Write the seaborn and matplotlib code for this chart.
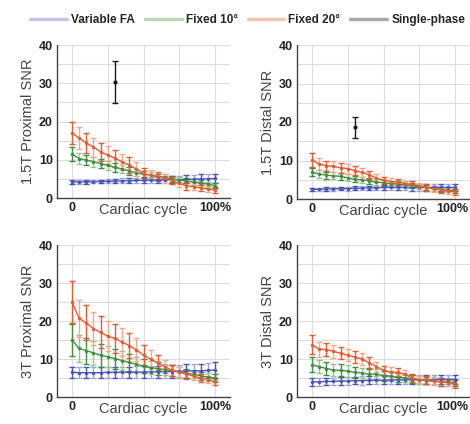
import numpy as np
import pandas as pd
import seaborn as sns
import matplotlib
matplotlib.use("Agg")
import matplotlib.pyplot as plt
from matplotlib.lines import Line2D
import matplotlib.transforms as mtransforms

# ---------------- data ----------------
phase = [0, 5, 10, 15, 20, 25, 30, 35, 40, 45, 50, 55, 60, 65, 70, 75, 80, 85, 90, 95, 100]
series_names = ["Variable FA", "Fixed 10°", "Fixed 20°", "Single-phase"]
panel_titles = ["1.5T Proximal SNR", "1.5T Distal SNR", "3T Proximal SNR", "3T Distal SNR"]

# 1.5T Proximal
p15_var = [4.2, 4.2, 4.2, 4.3, 4.3, 4.4, 4.4, 4.5, 4.5, 4.6, 4.6, 4.7, 4.7, 4.8, 4.8, 4.8, 4.9, 4.9, 5.0, 5.0, 5.1]
p15_var_err = [0.5, 0.5, 0.5, 0.5, 0.5, 0.6, 0.6, 0.6, 0.7, 0.7, 0.8, 0.8, 0.9, 0.9, 1.0, 1.0, 1.1, 1.1, 1.2, 1.2, 1.3]
p15_f10 = [11.5, 10.3, 9.9, 9.5, 9.0, 8.5, 8.0, 7.6, 7.1, 6.6, 6.2, 6.0, 5.6, 5.4, 5.0, 4.7, 4.5, 4.2, 4.0, 3.6, 3.2]
p15_f10_err = [1.8, 1.5, 1.4, 1.3, 1.2, 1.2, 1.1, 1.0, 1.0, 0.9, 0.9, 0.8, 0.8, 0.8, 0.8, 0.7, 0.7, 0.7, 0.7, 0.7, 0.7]
p15_f20 = [17.0, 15.7, 14.4, 13.3, 12.1, 11.2, 10.4, 9.5, 8.6, 7.6, 6.3, 6.0, 5.6, 5.1, 4.6, 3.8, 3.2, 3.0, 2.6, 2.4, 2.0]
p15_f20_err = [3.0, 2.9, 2.7, 2.5, 2.4, 2.3, 2.2, 2.1, 2.0, 1.8, 1.6, 1.4, 1.2, 1.1, 1.0, 1.0, 1.0, 0.9, 0.9, 0.8, 0.8]
p15_single = [30.4]
p15_single_err = [5.5]

# 1.5T Distal
d15_var = [2.5, 2.5, 2.6, 2.6, 2.7, 2.7, 2.8, 2.8, 2.9, 2.9, 3.0, 3.0, 3.0, 3.0, 3.0, 3.0, 3.0, 3.0, 3.0, 3.0, 3.0]
d15_var_err = [0.4, 0.4, 0.4, 0.4, 0.4, 0.5, 0.5, 0.5, 0.6, 0.6, 0.6, 0.7, 0.7, 0.7, 0.8, 0.8, 0.8, 0.9, 0.9, 1.0, 1.0]
d15_f10 = [7.0, 6.5, 6.2, 6.0, 5.9, 5.5, 5.1, 5.0, 4.7, 4.4, 4.2, 4.0, 3.9, 3.7, 3.5, 3.2, 3.0, 2.8, 2.5, 2.3, 2.1]
d15_f10_err = [1.1, 1.0, 0.9, 0.9, 0.9, 0.9, 0.8, 0.8, 0.8, 0.7, 0.7, 0.7, 0.7, 0.6, 0.6, 0.6, 0.6, 0.6, 0.6, 0.6, 0.6]
d15_f20 = [10.1, 9.1, 8.6, 8.5, 8.1, 7.9, 7.4, 6.9, 6.3, 5.4, 4.9, 4.5, 4.4, 4.0, 3.8, 3.4, 3.0, 2.6, 2.4, 2.1, 1.9]
d15_f20_err = [1.8, 1.5, 1.4, 1.4, 1.3, 1.3, 1.2, 1.2, 1.1, 1.0, 0.9, 0.9, 0.8, 0.8, 0.8, 0.8, 0.8, 0.8, 0.8, 0.8, 0.8]
d15_single = [18.6]
d15_single_err = [2.7]

# 3T Proximal
p3_var = [6.5, 6.4, 6.4, 6.4, 6.4, 6.5, 6.5, 6.5, 6.5, 6.5, 6.6, 6.6, 6.6, 6.7, 6.7, 6.8, 6.8, 6.9, 6.9, 7.0, 7.1]
p3_var_err = [1.5, 1.5, 1.5, 1.5, 1.5, 1.5, 1.5, 1.5, 1.5, 1.6, 1.6, 1.6, 1.6, 1.7, 1.7, 1.7, 1.8, 1.8, 1.8, 1.9, 2.0]
p3_f10 = [15.0, 12.8, 12.2, 11.6, 11.0, 10.6, 10.1, 9.6, 9.1, 8.6, 8.1, 7.7, 7.5, 7.2, 7.0, 6.6, 6.2, 6.0, 5.6, 5.2, 5.0]
p3_f10_err = [4.2, 3.6, 3.4, 3.2, 3.0, 2.8, 2.6, 2.4, 2.2, 2.0, 1.8, 1.7, 1.6, 1.5, 1.4, 1.3, 1.2, 1.1, 1.0, 1.0, 1.0]
p3_f20 = [25.0, 20.7, 19.5, 18.0, 17.0, 16.0, 15.4, 14.5, 13.5, 12.4, 11.0, 10.0, 9.0, 8.0, 7.0, 6.5, 6.0, 5.5, 5.0, 4.6, 4.1]
p3_f20_err = [5.5, 4.8, 4.6, 4.4, 4.2, 4.0, 3.8, 3.6, 3.3, 3.0, 2.6, 2.3, 2.0, 1.8, 1.5, 1.3, 1.2, 1.1, 1.0, 1.0, 1.0]

# 3T Distal
d3_var = [4.0, 4.0, 4.1, 4.1, 4.2, 4.2, 4.3, 4.3, 4.4, 4.4, 4.4, 4.5, 4.5, 4.5, 4.5, 4.5, 4.5, 4.5, 4.6, 4.6, 4.6]
d3_var_err = [1.0, 1.0, 1.0, 1.0, 1.0, 1.0, 1.0, 1.1, 1.1, 1.1, 1.1, 1.1, 1.1, 1.2, 1.2, 1.2, 1.2, 1.2, 1.3, 1.3, 1.3]
d3_f10 = [8.5, 8.0, 7.5, 7.1, 7.0, 6.8, 6.5, 6.3, 6.0, 6.0, 5.6, 5.5, 5.1, 5.0, 4.8, 4.5, 4.3, 4.2, 4.0, 4.0, 3.8]
d3_f10_err = [2.0, 1.8, 1.7, 1.6, 1.6, 1.5, 1.5, 1.4, 1.4, 1.3, 1.3, 1.2, 1.2, 1.1, 1.1, 1.0, 1.0, 1.0, 1.0, 1.0, 1.0]
d3_f20 = [13.7, 12.6, 12.5, 12.0, 11.5, 11.0, 10.5, 10.0, 9.0, 8.0, 7.0, 6.6, 6.5, 6.0, 5.0, 4.6, 4.5, 4.1, 4.0, 3.8, 3.5]
d3_f20_err = [2.5, 2.0, 1.8, 1.7, 1.6, 1.6, 1.5, 1.5, 1.4, 1.3, 1.2, 1.2, 1.1, 1.1, 1.0, 1.0, 1.0, 1.0, 1.0, 1.0, 1.0]

single_phase_x = [30]

panels = [
    (p15_var, p15_var_err, p15_f10, p15_f10_err, p15_f20, p15_f20_err, p15_single, p15_single_err),
    (d15_var, d15_var_err, d15_f10, d15_f10_err, d15_f20, d15_f20_err, d15_single, d15_single_err),
    (p3_var, p3_var_err, p3_f10, p3_f10_err, p3_f20, p3_f20_err, None, None),
    (d3_var, d3_var_err, d3_f10, d3_f10_err, d3_f20, d3_f20_err, None, None),
]

# ---------------- style ----------------
sns.set_theme(style="whitegrid")
plt.rcParams['font.family'] = ['Liberation Sans', 'DejaVu Sans']

dark_cols = {"Variable FA": "#4a55b8", "Fixed 10°": "#3f8f3f", "Fixed 20°": "#ea5a2e"}
light_cols = {"Variable FA": "#9ea4de", "Fixed 10°": "#98c494", "Fixed 20°": "#f4a88b"}
legend_cols = ["#c3c6e8", "#bdd6b6", "#f8c4ad", "#a9a9a9"]

fig = plt.figure(figsize=(4.7, 4.24), dpi=100)
W, H = 470.0, 424.0
rects = [
    (57 / W, 1 - 198 / H, 173 / W, 153 / H),
    (297 / W, 1 - 199 / H, 173 / W, 154 / H),
    (57 / W, 1 - 397 / H, 173 / W, 152 / H),
    (297 / W, 1 - 397 / H, 173 / W, 152 / H),
]

for i, (rect, pdata) in enumerate(zip(rects, panels)):
    ax = fig.add_axes(rect)
    var, var_e, f10, f10_e, f20, f20_e, sp, sp_e = pdata
    rows = []
    for name, vals in zip(series_names[:3], [var, f10, f20]):
        for x, v in zip(phase, vals):
            rows.append({"phase": x, "snr": v, "series": name})
    df = pd.DataFrame(rows)
    for name, vals, errs in zip(series_names[:3], [var, f10, f20], [var_e, f10_e, f20_e]):
        ph = np.array(phase)
        v = np.array(vals)
        e = np.array(errs)
        ev = np.arange(len(ph)) % 2 == 0
        ax.errorbar(ph[~ev], v[~ev], yerr=e[~ev], fmt='none', ecolor=light_cols[name],
                    elinewidth=1.0, capsize=2.2, capthick=1.0, zorder=2)
        ax.errorbar(ph[ev], v[ev], yerr=e[ev], fmt='none', ecolor=dark_cols[name],
                    elinewidth=1.0, capsize=2.2, capthick=1.0, zorder=3)
    sns.lineplot(data=df, x="phase", y="snr", hue="series", hue_order=series_names[:3],
                 palette=dark_cols, marker='o', markersize=2.5, markeredgewidth=0,
                 linewidth=1.0, ax=ax, legend=False, zorder=4)
    if sp is not None:
        ax.errorbar(single_phase_x, sp, yerr=sp_e, fmt='o', color='#1a1a1a', markersize=2,
                    elinewidth=1.0, capsize=2.2, capthick=1.0, zorder=5)

    ax.set_xlim(-10.5, 110.5)
    ax.set_ylim(0, 40)
    ax.set_xticks([0, 25, 50, 75, 100])
    ax.set_xticklabels(["0", "", "", "", "100%"])
    ax.set_yticks([0, 10, 20, 30, 40])
    ax.set_yticks([5, 15, 25, 35], minor=True)
    ax.grid(True, which='both', color='#dcdcdc', linewidth=0.8)
    ax.set_axisbelow(True)
    ax.tick_params(axis='both', which='major', direction='in', length=3, width=0.8,
                   color='#555555', labelsize=9, pad=3)
    ax.tick_params(axis='y', which='minor', length=0)
    for lab in ax.get_xticklabels() + ax.get_yticklabels():
        lab.set_fontweight('bold')
        lab.set_color('#222222')
    if i % 2 == 1:
        lab = ax.get_xticklabels()[-1]
        lab.set_transform(lab.get_transform() +
                          mtransforms.ScaledTranslation(-3 / 100, 0, fig.dpi_scale_trans))
    for s in ['top', 'right']:
        ax.spines[s].set_visible(False)
    for s in ['left', 'bottom']:
        ax.spines[s].set_visible(True)
        ax.spines[s].set_color('#444444')
        ax.spines[s].set_linewidth(1.0)
    ax.set_xlabel("Cardiac cycle", fontsize=10.5, color='#444444', labelpad=-8)
    ax.set_ylabel(panel_titles[i], fontsize=10.5, color='#444444', labelpad=3)

handles = [Line2D([0], [0], color=c, lw=2.5) for c in legend_cols]
leg = fig.legend(handles, series_names, loc='center', bbox_to_anchor=(0.527, 0.953), ncol=4,
                 frameon=False, handlelength=3.1, handletextpad=0.35,
                 columnspacing=0.85, prop={'weight': 'bold', 'size': 8.5})

fig.savefig("out.png", dpi=100)
